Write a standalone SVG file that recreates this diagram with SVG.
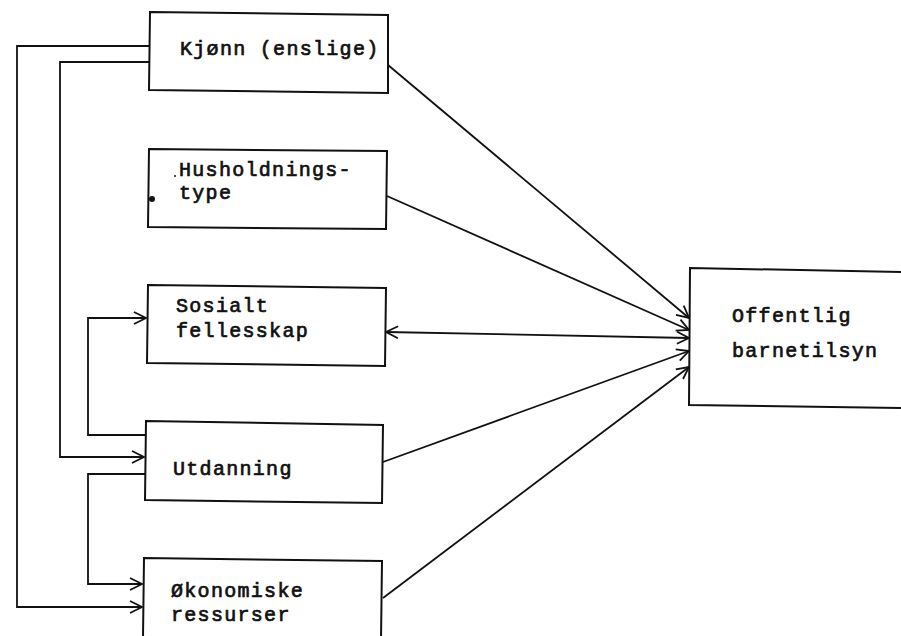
<svg xmlns="http://www.w3.org/2000/svg" width="901" height="636" viewBox="0 0 901 636">
<style>
.box{fill:#fff;stroke:#111;stroke-width:2}
.ln{fill:none;stroke:#111;stroke-width:1.8}
.t{font-size:20px;letter-spacing:1.3px;fill:#111;stroke:#111;stroke-width:0.7}
</style>
<defs>
<marker id="ah" viewBox="0 0 14 14" refX="13" refY="7" markerWidth="14" markerHeight="14" markerUnits="userSpaceOnUse" orient="auto-start-reverse">
<path d="M1,1 L13,7 L1,13" fill="none" stroke="#111" stroke-width="1.8"/>
</marker>
</defs>
<rect width="901" height="636" fill="#fff"/>
<g id="connectors">
<polyline class="ln" points="150,46 17,46 17,607 142,607" marker-end="url(#ah)"/>
<polyline class="ln" points="150,62 60,62 60,457 144,457" marker-end="url(#ah)"/>
<polyline class="ln" points="146,435 88,435 88,318 146,318" marker-end="url(#ah)"/>
<polyline class="ln" points="146,474 88,474 88,584 142,584" marker-end="url(#ah)"/>
<line class="ln" x1="388" y1="65" x2="689" y2="318" marker-end="url(#ah)"/>
<line class="ln" x1="387" y1="196" x2="689" y2="330" marker-end="url(#ah)"/>
<line class="ln" x1="386" y1="332" x2="689" y2="338" marker-start="url(#ah)" marker-end="url(#ah)"/>
<line class="ln" x1="383" y1="462" x2="689" y2="351" marker-end="url(#ah)"/>
<line class="ln" x1="383" y1="598" x2="689" y2="367" marker-end="url(#ah)"/>
</g>
<g font-family="'Liberation Mono', 'Courier New', 'DejaVu Sans Mono', monospace">
<g id="kjonn">
<polygon class="box" points="150,12 388,15 388,93 149,90"/>
<text class="t" x="180" y="55">Kjønn (enslige)</text>
</g>
<g id="husholdning">
<polygon class="box" points="149,149 387,151 386,229 148,227"/>
<circle cx="152" cy="199" r="3" fill="#111"/>
<circle cx="175" cy="176" r="1" fill="#111"/>
<text class="t" x="179" y="176">Husholdnings-</text>
<text class="t" x="179" y="199">type</text>
</g>
<g id="sosialt">
<polygon class="box" points="148,285 386,288 385,366 147,363"/>
<text class="t" x="176" y="312">Sosialt</text>
<text class="t" x="176" y="337">fellesskap</text>
</g>
<g id="utdanning">
<polygon class="box" points="146,421 383,425 382,503 145,500"/>
<text class="t" x="173" y="475">Utdanning</text>
</g>
<g id="okonomiske">
<polygon class="box" points="144,558 382,561 381,640 143,637"/>
<text class="t" x="171" y="597">Økonomiske</text>
<text class="t" x="171" y="621">ressurser</text>
</g>
<g id="offentlig">
<polygon class="box" points="690,268 903,272 903,408 689,405"/>
<text class="t" x="732" y="322">Offentlig</text>
<text class="t" x="732" y="357">barnetilsyn</text>
</g>
</g>
</svg>
